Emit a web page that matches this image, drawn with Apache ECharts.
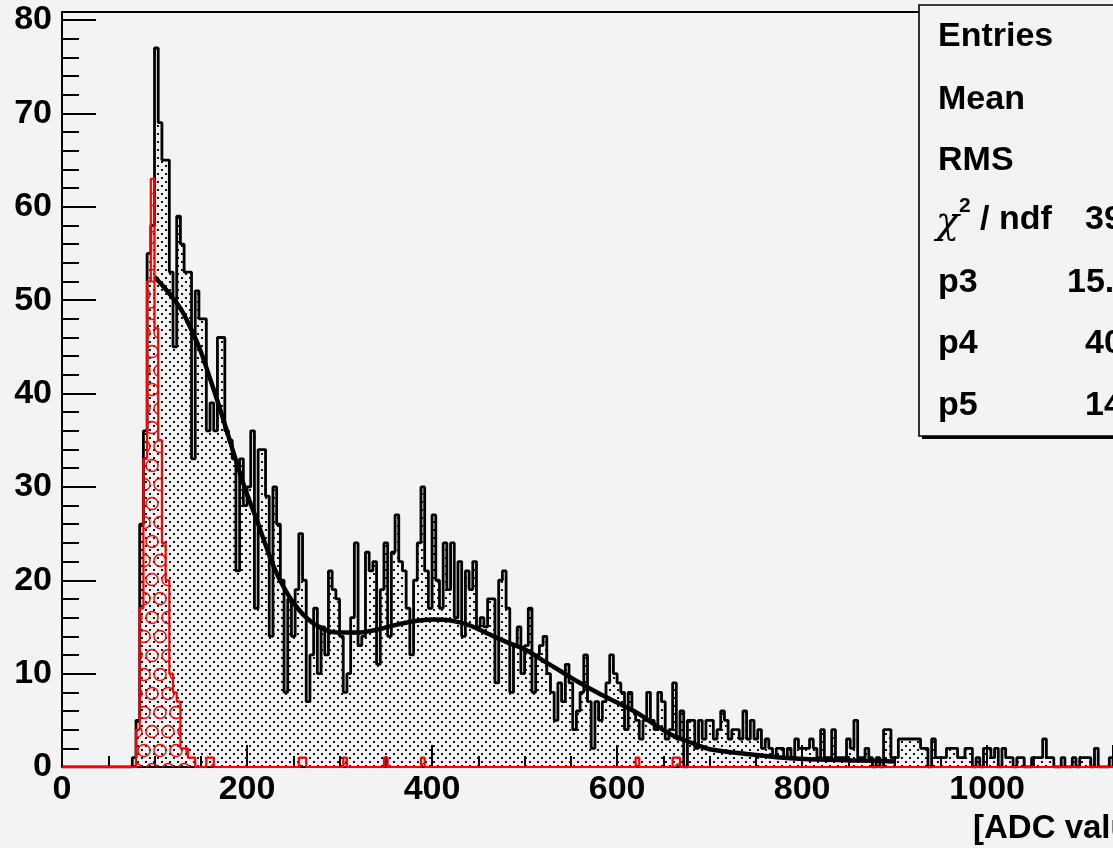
<!DOCTYPE html>
<html>
<head>
<meta charset="utf-8">
<script src="https://cdn.jsdelivr.net/npm/echarts@6/dist/echarts.min.js"></script>
<style>
html,body{margin:0;padding:0;background:#f3f3f3;}
#chart{width:1113px;height:848px;}
</style>
</head>
<body>
<div id="chart"></div>
<script>
// ---- data ----
const binWidth = 4;           // ADC units per bin, bins start at 0
const blackCounts = [
  0,0,0,0,0,0,0,0,0,0, 0,0,0,0,0,0,0,0,0,1,
  5,26,36,55,58,77,69,65,65,53, 45,59,56,53,53,33,51,48,48,36,
  39,36,46,46,36,35,33,21,33,28, 30,36,17,34,34,29,14,30,26,20,
  8,18,14,19,25,20,7,12,17,10, 15,12,21,19,18,14,8,10,16,24,
  13,14,23,21,22,11,19,24,14,23, 27,22,21,17,12,20,24,30,21,17,
  27,20,17,24,19,24,16,22,14,21, 19,22,15,16,15,18,18,9,20,21,
  17,8,13,15,10,13,17,8,12,13, 14,10,8,5,9,7,11,9,4,6,
  8,12,7,2,7,5,7,9,12,10, 9,8,4,8,6,5,3,5,8,5,
  4,8,7,3,4,9,3,6,0,5, 5,2,5,3,5,5,3,4,6,5,
  3,4,4,3,6,3,5,3,4,2, 3,2,1,2,2,1,2,1,3,2,
  2,2,3,2,1,4,1,1,4,1, 1,1,3,2,5,1,1,2,1,0,
  1,0,4,4,1,1,3,3,3,3, 3,3,2,2,0,3,1,1,1,2,
  2,2,1,1,2,2,0,1,0,2, 2,1,2,0,2,1,1,0,1,1,
  0,0,1,1,1,3,1,1,0,0, 1,0,0,1,0,1,1,1,0,2,
  0,0,0,1,0,1,0,0,1,0, 0,0,1,0,0,0,0,1,0,0
];
const redCounts = [
  0,0,0,0,0,0,0,0,0,0, 0,0,0,0,0,0,0,0,0,0,
  4,17,33,52,63,47,35,24,20,10, 8,7,2,2,1,1,0,0,0,1,
  1,0,0,0,0,0,0,0,0,0, 0,0,0,0,0,0,0,0,0,0,
  0,0,0,0,1,1,0,0,0,0, 0,0,0,0,0,0,1,0,0,0,
  0,0,0,0,0,0,0,1,0,0, 0,0,0,0,0,0,0,1,0,0,
  0,0,0,0,0,0,0,0,0,0, 0,0,0,0,0,0,0,0,0,0,
  0,0,0,0,0,0,0,0,0,0, 0,0,0,0,0,0,0,0,0,0,
  0,0,0,0,0,0,0,0,0,0, 0,0,0,0,0,1,0,0,0,0,
  0,0,0,0,0,1,1,0,0,0, 0,0,0,0,0,0,0,0,0,0,
  0,0,0,0,0,0,0,0,0,0, 0,0,0,0,0,0,0,0,0,0,
  0,0,0,0,0,0,0,0,0,0, 0,0,0,0,0,0,0,0,0,0,
  0,0,0,0,0,0,0,0,0,0, 0,0,0,0,0,0,0,0,0,0,
  0,0,0,0,0,0,0,0,0,0, 0,0,0,0,0,0,0,0,0,0,
  0,0,0,0,0,0,0,0,0,0, 0,0,0,0,0,0,0,0,0,0,
  0,0,0,0,0,0,0,0,0,0, 0,0,0,0,0,0,0,0,0,0
];
// fitted curve: [ADC value, counts]
const fitX = [100,110,120,130,140,150,160,170,180,190,200,210,220,230,240,250,260,270,280,290,300,320,340,360,380,400,420,440,460,480,500,520,540,560,580,600,620,640,660,680,700,740,780,820,860,900];
const fitY = [52.5,51.4,50.2,48.8,46.8,44.5,41.6,38.6,35.4,32.2,29.2,26.6,23.8,21.2,19.2,17.6,16.4,15.5,14.9,14.5,14.4,14.4,14.7,15.2,15.6,15.8,15.7,15.2,14.3,13.4,12.6,11.4,10.2,9.0,7.9,6.9,5.9,4.6,3.4,2.6,1.9,1.4,1.0,0.8,0.7,0.6];
const xVisibleMax = 1136;     // x value at the right edge of the picture
const statLabels = ['Entries','Mean','RMS','p3','p4','p5'];
const statValues = ['', '', '', '15.', '40', '14'];
const chiValue = '39';
const xTitle = '[ADC value]';

// ---- build ----
function stepData(counts){
  const d = counts.map((c,i)=>[i*binWidth, c]);
  d.push([counts.length*binWidth, counts[counts.length-1]]);
  return d;
}
function dotPattern(){
  const c = document.createElement('canvas'); c.width = 8; c.height = 8;
  const g = c.getContext('2d');
  g.fillStyle = '#111';
  g.fillRect(1,1,2,2); g.fillRect(5,5,2,2);
  return c;
}
function circlePattern(){
  const c = document.createElement('canvas'); c.width = 16; c.height = 38;
  const g = c.getContext('2d');
  g.strokeStyle = '#ff0000'; g.lineWidth = 1.4;
  [[8,9.5],[0,28.5],[16,28.5]].forEach(p=>{g.beginPath(); g.arc(p[0],p[1],6,0,Math.PI*2); g.stroke();});
  return c;
}
const FONT = '"Liberation Sans", Arial, Helvetica, sans-serif';
const chart = echarts.init(document.getElementById('chart'), null, {renderer:'canvas'});

const statY = [37, 100, 161, 283, 344, 406];
const graphics = [
  {type:'line', z:50, shape:{x1:62,y1:12,x2:1113,y2:12}, style:{stroke:'#000', lineWidth:2}},
  {type:'line', z:50, shape:{x1:62,y1:11,x2:62,y2:21}, style:{stroke:'#000', lineWidth:2}},
  {type:'rect', z:60, shape:{x:922, y:8, width:300, height:431}, style:{fill:'#000'}},
  {type:'rect', z:61, shape:{x:919, y:5, width:300, height:431}, style:{fill:'#f3f3f3', stroke:'#000', lineWidth:1.6}},
  {type:'text', z:62, x:936, y:223, style:{text:'χ', font:'italic 38px "DejaVu Serif", serif', fill:'#000', textAlign:'left', textVerticalAlign:'middle'}},
  {type:'text', z:62, x:959, y:206, style:{text:'2', font:'bold 21px '+FONT, fill:'#000', textAlign:'left', textVerticalAlign:'middle'}},
  {type:'text', z:62, x:980, y:220, style:{text:'/ ndf', font:'bold 34px '+FONT, fill:'#000', textAlign:'left', textVerticalAlign:'middle'}},
  {type:'text', z:62, x:1085, y:220, style:{text:chiValue, font:'bold 34px '+FONT, fill:'#000', textAlign:'left', textVerticalAlign:'middle'}},
  {type:'text', z:62, x:973, y:829, style:{text:xTitle, font:'bold 33px '+FONT, fill:'#000', textAlign:'left', textVerticalAlign:'middle'}}
];
statLabels.forEach((t,i)=>{
  graphics.push({type:'text', z:62, x:938, y:statY[i], style:{text:t, font:'bold 34px '+FONT, fill:'#000', textAlign:'left', textVerticalAlign:'middle'}});
  if (statValues[i]) {
    graphics.push({type:'text', z:62, x:(t==='p3'?1067:1085), y:statY[i], style:{text:statValues[i], font:'bold 34px '+FONT, fill:'#000', textAlign:'left', textVerticalAlign:'middle'}});
  }
});

chart.setOption({
  backgroundColor:'#f3f3f3',
  animation:false,
  grid:{left:62, top:20, right:0, bottom:81, containLabel:false},
  xAxis:{
    type:'value', min:0, max:xVisibleMax, interval:200,
    axisLine:{show:true, onZero:false, lineStyle:{color:'#000', width:2}},
    axisTick:{show:true, inside:true, length:22, lineStyle:{color:'#000', width:2}},
    minorTick:{show:true, splitNumber:4, length:11, lineStyle:{color:'#000', width:2}},
    splitLine:{show:false},
    axisLabel:{color:'#000', fontFamily:FONT, fontWeight:'bold', fontSize:34, margin:6, showMaxLabel:false,
      formatter:(v)=>String(v)}
  },
  yAxis:{
    type:'value', min:0, max:80, interval:10,
    axisLine:{show:true, lineStyle:{color:'#000', width:2}},
    axisTick:{show:true, inside:true, length:34, lineStyle:{color:'#000', width:2}},
    minorTick:{show:true, splitNumber:5, length:17, lineStyle:{color:'#000', width:2}},
    splitLine:{show:false},
    axisLabel:{color:'#000', fontFamily:FONT, fontWeight:'bold', fontSize:34, margin:10}
  },
  series:[
    {type:'line', step:'end', symbol:'none', data:stepData(blackCounts), z:2,
     lineStyle:{color:'#000', width:2.8}, areaStyle:{color:{image:dotPattern(), repeat:'repeat'}, opacity:1}},
    {type:'line', smooth:0.3, symbol:'none', data:fitX.map((x,i)=>[x, fitY[i]]), z:3,
     lineStyle:{color:'#000', width:4.5}},
    {type:'line', step:'end', symbol:'none', data:stepData(redCounts), z:4,
     lineStyle:{color:'#ff0000', width:2.2}, areaStyle:{color:{image:circlePattern(), repeat:'repeat'}, opacity:1}}
  ],
  graphic:graphics
});
</script>
</body>
</html>
